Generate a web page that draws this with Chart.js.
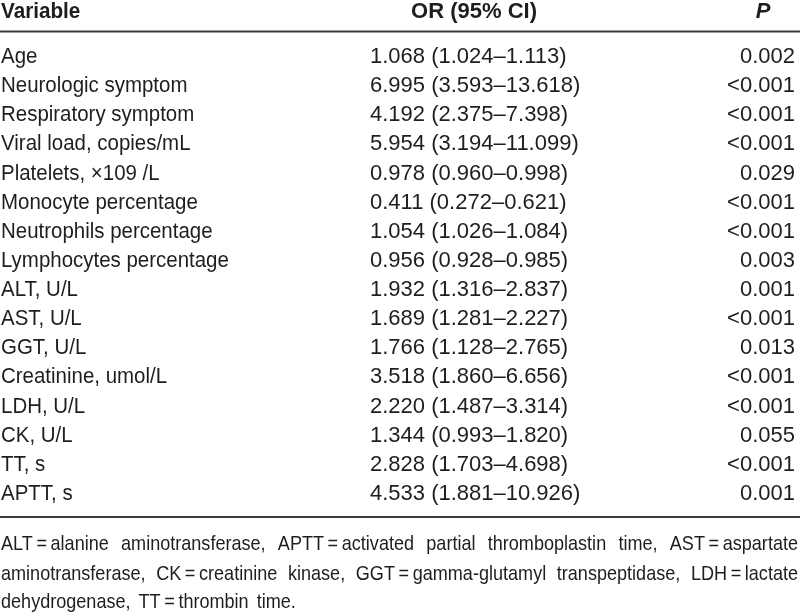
<!DOCTYPE html>
<html>
<head>
<meta charset="utf-8">
<script src="https://cdn.jsdelivr.net/npm/chart.js@4"></script>
<style>
html,body{margin:0;padding:0;background:#fff;}
#wrap{width:800px;height:614px;position:relative;}
</style>
</head>
<body>
<div id="wrap"><canvas id="c"></canvas></div>
<script>
const headers = ['Variable', 'OR (95% CI)', 'P'];
const variables = ['Age', 'Neurologic symptom', 'Respiratory symptom', 'Viral load, copies/mL', 'Platelets, \u00d7109 /L', 'Monocyte percentage', 'Neutrophils percentage', 'Lymphocytes percentage', 'ALT, U/L', 'AST, U/L', 'GGT, U/L', 'Creatinine, umol/L', 'LDH, U/L', 'CK, U/L', 'TT, s', 'APTT, s'];
const orValues = [1.068, 6.995, 4.192, 5.954, 0.978, 0.411, 1.054, 0.956, 1.932, 1.689, 1.766, 3.518, 2.220, 1.344, 2.828, 4.533];
const ciLower = [1.024, 3.593, 2.375, 3.194, 0.960, 0.272, 1.026, 0.928, 1.316, 1.281, 1.128, 1.860, 1.487, 0.993, 1.703, 1.881];
const ciUpper = [1.113, 13.618, 7.398, 11.099, 0.998, 0.621, 1.084, 0.985, 2.837, 2.227, 2.765, 6.656, 3.314, 1.820, 4.698, 10.926];
const pValues = ['0.002', '<0.001', '<0.001', '<0.001', '0.029', '<0.001', '<0.001', '0.003', '0.001', '<0.001', '0.013', '<0.001', '<0.001', '0.055', '<0.001', '0.001'];
const footnoteLines = [
  'ALT=alanine aminotransferase, APTT=activated partial thromboplastin time, AST=aspartate',
  'aminotransferase, CK=creatinine kinase, GGT=gamma-glutamyl transpeptidase, LDH=lactate',
  'dehydrogenase, TT=thrombin time.'
];

// layout (in scale units)
const FONT = '"Liberation Sans", Arial, sans-serif';
const ROW_HEADER = -1.545, ROW_TOPLINE = -1.081, ROW_BOTLINE = 15.585;
const ROW_FOOT = [16.718, 17.748, 18.709];
const X_VAR = 1, X_OR = 370, X_P_RIGHT = 795, X_OR_HEAD = 474, X_P_HEAD = 763, X_END = 798;
const TEXT = '#1e1e1e', LINE = '#3a3a3a';
const SQ_VAR = 0.93, SQ_HEAD = 0.94, SQ_FOOT = 0.86;

function drawSq(ctx, t, x, y, s, align) {
  const w = ctx.measureText(t).width * s;
  let x0 = x;
  if (align === 'right') x0 = x - w;
  else if (align === 'center') x0 = x - w / 2;
  ctx.save();
  ctx.translate(x0, y);
  ctx.scale(s, 1);
  ctx.textAlign = 'left';
  ctx.fillText(t, 0, 0);
  ctx.restore();
}

const tablePlugin = {
  id: 'table',
  afterDraw(chart) {
    const ctx = chart.ctx, xs = chart.scales.x, ys = chart.scales.y;
    const px = v => xs.getPixelForValue(v), py = v => ys.getPixelForValue(v);
    ctx.save();
    ctx.fillStyle = TEXT;
    ctx.textBaseline = 'alphabetic';
    // header
    ctx.font = 'bold 22px ' + FONT;
    drawSq(ctx, headers[0], px(X_VAR), py(ROW_HEADER), SQ_HEAD, 'left');
    drawSq(ctx, headers[1], px(X_OR_HEAD), py(ROW_HEADER), 1, 'center');
    ctx.font = 'italic bold 22px ' + FONT;
    drawSq(ctx, headers[2], px(X_P_HEAD), py(ROW_HEADER), 1, 'center');
    // lines
    ctx.strokeStyle = LINE;
    ctx.lineWidth = 2;
    [ROW_TOPLINE, ROW_BOTLINE].forEach(r => {
      ctx.beginPath();
      ctx.moveTo(px(0), py(r));
      ctx.lineTo(px(800), py(r));
      ctx.stroke();
    });
    // body
    ctx.font = '22px ' + FONT;
    variables.forEach((v, i) => {
      const y = py(i);
      drawSq(ctx, v, px(X_VAR), y, SQ_VAR, 'left');
      const txt = orValues[i].toFixed(3) + ' (' + ciLower[i].toFixed(3) + '\u2013' + ciUpper[i].toFixed(3) + ')';
      drawSq(ctx, txt, px(X_OR), y, 1, 'left');
      drawSq(ctx, pValues[i], px(X_P_RIGHT), y, 1, 'right');
    });
    // footnote
    ctx.font = '21px ' + FONT;
    footnoteLines.forEach((line, li) => {
      const words = line.split(' ').map(w => w.replace(/=/g, '\u2009=\u2009'));
      const y = py(ROW_FOOT[li]);
      const widths = words.map(w => ctx.measureText(w).width * SQ_FOOT);
      let gap;
      if (li === footnoteLines.length - 1) {
        gap = ctx.measureText(' ').width * SQ_FOOT * 1.6;
      } else {
        const total = widths.reduce((a, b) => a + b, 0);
        gap = (px(X_END) - px(X_VAR) - total) / (words.length - 1);
      }
      let x = px(X_VAR);
      words.forEach((w, k) => { drawSq(ctx, w, x, y, SQ_FOOT, 'left'); x += widths[k] + gap; });
    });
    ctx.restore();
  }
};

new Chart(document.getElementById('c'), {
  type: 'scatter',
  data: {
    datasets: [{
      data: orValues.map((v, i) => ({ x: X_OR, y: i })),
      pointRadius: 0,
      pointHoverRadius: 0
    }]
  },
  options: {
    responsive: true,
    maintainAspectRatio: false,
    animation: false,
    events: [],
    layout: { padding: 0 },
    plugins: { legend: { display: false }, tooltip: { enabled: false } },
    scales: {
      x: { type: 'linear', min: 0, max: 800, display: false },
      y: { type: 'linear', min: -2.163, max: 18.915, reverse: true, display: false }
    }
  },
  plugins: [tablePlugin]
});
</script>
</body>
</html>
